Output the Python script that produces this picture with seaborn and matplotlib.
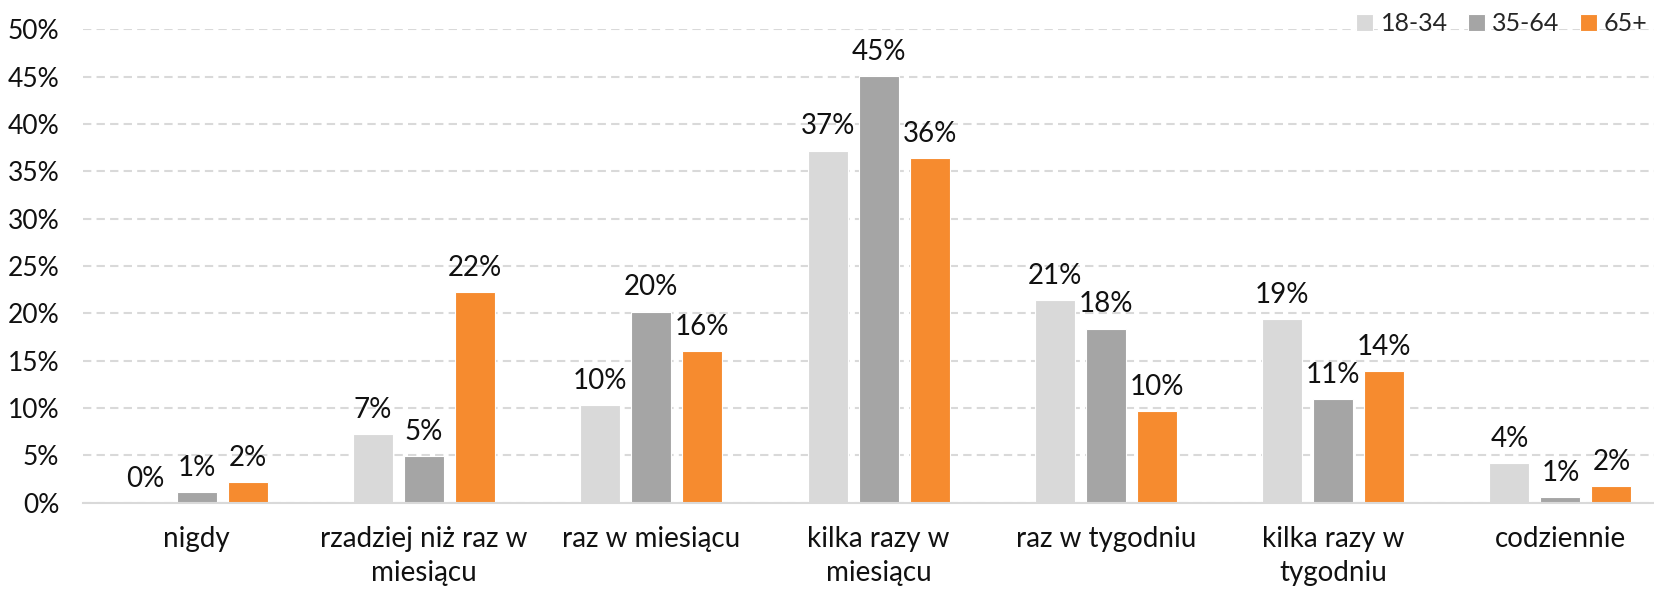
import matplotlib
matplotlib.use("Agg")
import matplotlib.pyplot as plt
import pandas as pd
import seaborn as sns

categories = [
    "nigdy",
    "rzadziej niż raz w\nmiesiącu",
    "raz w miesiącu",
    "kilka razy w\nmiesiącu",
    "raz w tygodniu",
    "kilka razy w\ntygodniu",
    "codziennie",
]
groups = ["18-34", "35-64", "65+"]
share_18_34 = [0.0, 7.3, 10.3, 37.2, 21.4, 19.4, 4.2]
share_35_64 = [1.1, 4.9, 20.2, 45.1, 18.4, 11.0, 0.6]
share_65plus = [2.2, 22.3, 16.0, 36.4, 9.7, 13.9, 1.8]
colors = ["#d9d9d9", "#a5a5a5", "#f68b2f"]

rows = []
for grp, vals in zip(groups, [share_18_34, share_35_64, share_65plus]):
    for cat, v in zip(categories, vals):
        rows.append({"kategoria": cat, "grupa": grp, "udzial": v / 100})
df = pd.DataFrame(rows)

sns.set_theme(style="white")
plt.rcParams["font.family"] = ["Lato", "DejaVu Sans"]

fig = plt.figure(figsize=(16.54, 5.89), dpi=100)
ax = fig.add_axes([83 / 1654, 1 - 502.8 / 589, 1 - 83 / 1654, (502.8 - 29.3) / 589])

sns.barplot(
    data=df, x="kategoria", y="udzial", hue="grupa", order=categories,
    hue_order=groups, palette=colors, saturation=1, width=0.673, gap=0.216,
    edgecolor="white", linewidth=0.8, ax=ax,
)

for cont in ax.containers:
    labels = [f"{round(b.get_height() * 100):.0f}%" for b in cont]
    ax.bar_label(cont, labels=labels, padding=8, fontsize=20, color="#111111")

ax.set_ylim(0, 0.5)
ax.set_xlim(-0.5, -0.5 + (1654 - 83) / 227.3)
ax.set_yticks([i / 100 for i in range(0, 51, 5)])
ax.set_yticklabels([f"{i}%" for i in range(0, 51, 5)])
ax.yaxis.grid(True, color="#d9d9d9", linewidth=1.5, linestyle=(0, (4, 2.5)))
ax.set_axisbelow(True)
ax.tick_params(axis="y", length=0, pad=17, labelsize=19, labelcolor="#111111")
ax.tick_params(axis="x", length=0, pad=17, labelsize=20, labelcolor="#111111")
for lbl in ax.get_xticklabels():
    lbl.set_linespacing(1.35)
ax.set_xlabel("")
ax.set_ylabel("")
for side in ["top", "right", "left"]:
    ax.spines[side].set_visible(False)
ax.spines["bottom"].set_color("#d9d9d9")
ax.spines["bottom"].set_linewidth(1.5)

handles, labs = ax.get_legend_handles_labels()
ax.get_legend().remove()
fig.legend(
    handles, labs, loc="center left", bbox_to_anchor=(1356 / 1654, 1 - 23.5 / 589),
    ncol=3, frameon=False, fontsize=18, borderpad=0, borderaxespad=0,
    handlelength=0.68, handleheight=0.68, handletextpad=0.3, columnspacing=0.8,
)

fig.savefig("out.png", dpi=100)
